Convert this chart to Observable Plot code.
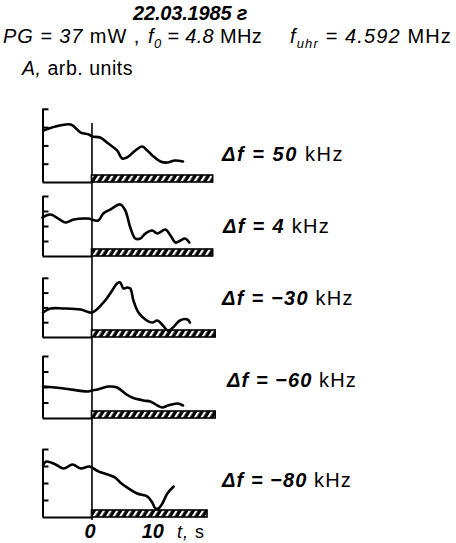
<!DOCTYPE html>
<html>
<head>
<meta charset="utf-8">
<script src="https://cdn.jsdelivr.net/npm/d3@7"></script>
<script src="https://cdn.jsdelivr.net/npm/@observablehq/plot@0.6"></script>
<style>
  html, body { margin: 0; padding: 0; background: #fff; }
  #chart { position: relative; width: 456px; height: 543px; overflow: hidden; font-family: "Liberation Sans", Arial, sans-serif; color: #000; }
  .abs { position: absolute; white-space: nowrap; line-height: 1; }
  .bi { font-style: italic; font-weight: bold; }
  .it { font-style: italic; }
  .panel { position: absolute; left: 0; }
  sub { line-height: 0; }
</style>
</head>
<body>
<div id="chart"></div>
<script>
// ---------- data ----------
// time, s
const t1 = [-7.7, -5.8, -3.4, -1.8, -0.5, 0, 1.3, 2.6, 4.0, 4.8, 5.6, 6.9, 8.0, 8.8, 9.6, 10.9, 12.0, 13.2, 14.5];
const a1 = [2.84, 3.06, 3.17, 2.73, 2.62, 2.51, 2.46, 2.13, 1.75, 1.31, 1.37, 1.75, 1.97, 1.75, 1.48, 1.15, 1.09, 1.20, 1.15];

const t2 = [-7.9, -6.6, -4.2, -2.9, -0.7, 1.0, 1.8, 2.9, 4.5, 5.3, 6.1, 6.9, 7.7, 8.5, 9.6, 10.4, 11.7, 12.5, 13.3, 14.1, 14.8, 15.5];
const a2 = [2.6, 2.8, 2.27, 2.47, 2.53, 2.4, 2.87, 3.13, 3.47, 3.07, 1.93, 1.2, 1.2, 1.53, 1.73, 1.53, 1.8, 1.4, 0.93, 1.07, 1.2, 0.93];

const t3 = [-7.8, -6.6, -4.5, -1.8, 0, 1.7, 2.9, 4.0, 4.5, 5.0, 5.6, 6.1, 6.6, 7.4, 8.5, 9.6, 10.4, 11.3, 12.1, 12.9, 14.0, 15.2, 15.6];
const a3 = [1.69, 1.96, 1.96, 1.89, 1.69, 2.3, 2.97, 3.65, 3.72, 3.31, 3.38, 3.31, 2.5, 1.69, 1.22, 1.01, 1.15, 0.81, 0.47, 0.68, 1.15, 1.22, 1.01];

const t4 = [-7.8, -4.5, -0.6, 0, 0.9, 2.6, 4.0, 5.3, 6.4, 8.2, 9.3, 10.4, 11.2, 12.1, 13.6, 14.5];
const a4 = [2.06, 1.94, 1.74, 1.81, 1.87, 2.06, 2.0, 1.61, 1.35, 1.16, 1.1, 0.84, 0.71, 0.84, 0.97, 0.84];

const t5 = [-7.8, -7.3, -5.8, -4.5, -3.1, -1.8, -0.4, 1.0, 2.5, 3.7, 4.5, 5.8, 7.2, 8.8, 9.6, 10.1, 10.6, 11.2, 12.0, 13.0];
const a5 = [3.06, 3.29, 3.12, 2.88, 3.12, 2.88, 3.0, 2.71, 2.53, 2.35, 2.06, 1.71, 1.41, 1.24, 0.88, 0.53, 0.53, 0.82, 1.41, 1.82];

// frequency offsets, kHz
const deltaF = [50, 4, -30, -60, -80];
// end of the heating interval (hatched bar), s
const heatEnd = [19.3, 19.3, 19.7, 19.7, 18.4];
// axis ticks
const yTicks = [1, 2, 3, 4];
const xTicks = [0, 10];
const xDomain = [-7.8, 19.7];

// ---------- layout (pixels on the page) ----------
const W = 456, H = 543;
const marginLeft = 42.5, marginRight = W - 215.2;
const layout = [
  {top: 100, bottom: 192, base: 182, unit: 18.3, label: 154, labelX: 222, labelEnd: 344},
  {top: 192, bottom: 268, base: 256, unit: 15.0, label: 226, labelX: 223, labelEnd: 330},
  {top: 268, bottom: 347, base: 337, unit: 14.8, label: 298, labelX: 222, labelEnd: 354},
  {top: 347, bottom: 432, base: 418, unit: 15.5, label: 380, labelX: 227, labelEnd: 357},
  {top: 432, bottom: 520, base: 517, unit: 17.0, label: 480, labelX: 222, labelEnd: 352}
];
const zeroLineTopPx = 123;

const series = [[t1, a1], [t2, a2], [t3, a3], [t4, a4], [t5, a5]];
const chart = document.getElementById("chart");

// place a text block: left edge, vertical centre, and fit to a target width via letter spacing
function addText(html, left, centerY, size, targetWidth) {
  const d = document.createElement("div");
  d.className = "abs";
  d.style.left = left + "px";
  d.style.fontSize = size + "px";
  d.innerHTML = html;
  chart.appendChild(d);
  if (targetWidth) {
    const n = d.textContent.length;
    const extra = targetWidth - d.offsetWidth;
    d.style.letterSpacing = (extra / n) + "px";
  }
  d.style.top = (centerY - d.offsetHeight / 2) + "px";
  return d;
}

// header
const title = addText(`<span class="bi">22.03.1985 г</span>`, 0, 12.5, 20, 114);
title.style.left = (190 - title.offsetWidth / 2) + "px";
addText(`<span class="it">PG = 37</span> mW ,`, 3, 36, 20, 137);
addText(`<span class="it">f<sub style="font-size:13px">0</sub> = 4.8</span> MHz`, 148, 36, 20, 114);
addText(`<span class="it">f<sub style="font-size:13px">uhr</sub> = 4.592</span> MHz`, 290, 36, 20, 162);
addText(`<span class="it">A,</span> arb. units`, 22, 69, 19.5, 111);

series.forEach(([ts, as], i) => {
  const L = layout[i];
  const last = i === series.length - 1;
  const svgBottom = last ? H : L.bottom;
  const h = svgBottom - L.top;
  const hi = (L.base - L.top) / L.unit;
  const lo = (L.base - L.bottom) / L.unit;
  const data = ts.map((t, j) => ({t, a: as[j]}));
  const zeroTop = i === 0 ? (L.base - zeroLineTopPx) / L.unit : hi;
  const marks = [
    // t = 0 line
    Plot.ruleX([0], {y1: zeroTop, y2: lo, strokeWidth: 1.6}),
    // left axis line and bottom line up to t = 0
    Plot.ruleX([xDomain[0]], {y1: 0, y2: d3.max(yTicks), strokeWidth: 2}),
    Plot.ruleY([0], {x1: xDomain[0], x2: 0, strokeWidth: 2}),
    Plot.axisY({ticks: yTicks, tickSize: -6, tickFormat: () => "", strokeWidth: 2, label: null}),
    // heating interval
    Plot.rect([{start: 0, end: heatEnd[i]}], {x1: "start", x2: "end", y1: 0, y2: 0, insetTop: -7, fill: "black", stroke: "black", strokeWidth: 1.6}),
    // amplitude curve
    Plot.line(data, {x: "t", y: "a", curve: "catmull-rom", strokeWidth: 2.6, stroke: "black", strokeLinejoin: "round", strokeLinecap: "round"})
  ];
  if (last) {
    marks.push(Plot.axisX({ticks: xTicks, tickSize: 0, tickPadding: 3, tickFormat: d => String(d), fontSize: 20, fontStyle: "italic", fontWeight: "bold", fontFamily: "Liberation Sans, Arial, sans-serif", label: null, dx: -2}));
  }
  const svg = Plot.plot({
    width: W,
    height: h,
    marginLeft,
    marginRight,
    marginTop: 0,
    marginBottom: svgBottom - L.bottom,
    style: {background: "transparent", overflow: "visible", color: "black"},
    x: {domain: xDomain, axis: null},
    y: {domain: [lo, hi], axis: null},
    marks
  });
  // hatch pattern for the heating bar
  const id = "hatch" + i;
  const defs = d3.select(svg).insert("defs", ":first-child");
  const pat = defs.append("pattern").attr("id", id).attr("patternUnits", "userSpaceOnUse")
    .attr("width", 5.6).attr("height", 12).attr("patternTransform", "rotate(32)");
  pat.append("rect").attr("width", 5.6).attr("height", 12).attr("fill", "black");
  pat.append("rect").attr("x", 0).attr("width", 2.2).attr("height", 12).attr("fill", "white");
  d3.select(svg).selectAll("g[aria-label=rect] rect").attr("fill", `url(#${id})`);

  const wrap = document.createElement("div");
  wrap.className = "panel";
  wrap.style.top = L.top + "px";
  wrap.appendChild(svg);
  chart.appendChild(wrap);

  // Δf label
  addText(`<span class="bi">\u0394f = ${String(deltaF[i]).replace("-", "\u2212")}</span> kHz`,
    L.labelX, L.label, 20, L.labelEnd - L.labelX);
});

// x axis label
addText(`<span class="it">t,</span> s`, 177, 532, 18, 28);
</script>
</body>
</html>
